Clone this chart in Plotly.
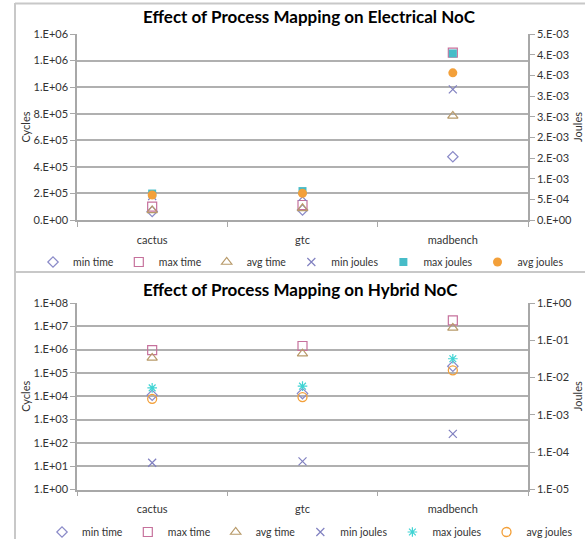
import plotly.graph_objects as go

W, H = 585, 539

categories = ["cactus", "gtc", "madbench"]

# Electrical NoC (top chart)
elec_min_time = [6.4e4, 7.5e4, 4.76e5]
elec_max_time = [1.0e5, 1.13e5, 1.26e6]
elec_avg_time = [7.2e4, 8.8e4, 7.83e5]
elec_min_joules = [5.8e-4, 5.6e-4, 3.16e-3]
elec_max_joules = [6.4e-4, 7.0e-4, 4.03e-3]
elec_avg_joules = [6.05e-4, 6.46e-4, 3.56e-3]

# Hybrid NoC (bottom chart)
hyb_min_time = [1.1e4, 1.3e4, 1.93e5]
hyb_max_time = [9.5e5, 1.43e6, 1.8e7]
hyb_avg_time = [4.4e5, 6.7e5, 8.5e6]
hyb_min_joules = [5.2e-5, 5.7e-5, 3.1e-4]
hyb_max_joules = [5.3e-3, 5.9e-3, 3.2e-2]
hyb_avg_joules = [2.7e-3, 3.0e-3, 1.57e-2]

# Tick values / labels
elec_cyc_ticks = [0, 2e5, 4e5, 6e5, 8e5, 1.0e6, 1.2e6, 1.4e6]
elec_cyc_labels = ["0.E+00", "2.E+05", "4.E+05", "6.E+05", "8.E+05", "1.E+06", "1.E+06", "1.E+06"]
elec_j_ticks = [0, 5e-4, 1e-3, 1.5e-3, 2e-3, 2.5e-3, 3e-3, 3.5e-3, 4e-3, 4.5e-3]
elec_j_labels = ["0.E+00", "5.E-04", "1.E-03", "2.E-03", "2.E-03", "3.E-03", "3.E-03", "4.E-03", "4.E-03", "5.E-03"]
hyb_cyc_ticks = [1e0, 1e1, 1e2, 1e3, 1e4, 1e5, 1e6, 1e7, 1e8]
hyb_cyc_labels = ["1.E+00", "1.E+01", "1.E+02", "1.E+03", "1.E+04", "1.E+05", "1.E+06", "1.E+07", "1.E+08"]
hyb_j_ticks = [1e-5, 1e-4, 1e-3, 1e-2, 1e-1, 1e0]
hyb_j_labels = ["1.E-05", "1.E-04", "1.E-03", "1.E-02", "1.E-01", "1.E+00"]

FONT = "Lato"
TXT = "#333333"
GRID = "#b0b0b0"
AXIS = "#a8a8a8"
BORDER = "#c8c8c8"

C_MINT = "#8a8ac8"
C_MAXT = "#c6719c"
C_AVGT = "#b89a6a"
C_MINJ = "#8080c0"
C_MAXJ_TOP = "#47bcc8"
C_MAXJ_BOT = "#40d4d4"
C_AVGJ = "#f3a03a"


def px_x(p):
    return p / W


def px_y(p):
    return 1 - p / H


fig = go.Figure()


def add_series(xa, ya_t, ya_j, legend, data, top):
    mt, xt, at, mj, xj, aj = data
    fig.add_trace(go.Scatter(x=categories, y=mt, name="min time", mode="markers", xaxis=xa, yaxis=ya_t, legend=legend,
                             marker=dict(symbol="diamond-open", size=8, color=C_MINT, line=dict(width=1.2))))
    fig.add_trace(go.Scatter(x=categories, y=xt, name="max time", mode="markers", xaxis=xa, yaxis=ya_t, legend=legend,
                             marker=dict(symbol="square-open", size=9, color=C_MAXT, line=dict(width=1.2))))
    fig.add_trace(go.Scatter(x=categories, y=at, name="avg time", mode="markers", xaxis=xa, yaxis=ya_t, legend=legend,
                             marker=dict(symbol="triangle-up-open", size=9, color=C_AVGT, line=dict(width=1.2))))
    fig.add_trace(go.Scatter(x=categories, y=mj, name="min joules", mode="markers", xaxis=xa, yaxis=ya_j, legend=legend,
                             marker=dict(symbol="x-thin-open", size=8, color=C_MINJ, line=dict(width=1.2, color=C_MINJ))))
    if top:
        fig.add_trace(go.Scatter(x=categories, y=xj, name="max joules", mode="markers", xaxis=xa, yaxis=ya_j, legend=legend,
                                 marker=dict(symbol="square", size=8, color=C_MAXJ_TOP, line=dict(width=0))))
        fig.add_trace(go.Scatter(x=categories, y=aj, name="avg joules", mode="markers", xaxis=xa, yaxis=ya_j, legend=legend,
                                 marker=dict(symbol="circle", size=9, color=C_AVGJ, line=dict(width=0))))
    else:
        fig.add_trace(go.Scatter(x=categories, y=xj, name="max joules", mode="markers", xaxis=xa, yaxis=ya_j, legend=legend,
                                 marker=dict(symbol="asterisk-open", size=8, color=C_MAXJ_BOT, line=dict(width=1.2, color=C_MAXJ_BOT))))
        fig.add_trace(go.Scatter(x=categories, y=aj, name="avg joules", mode="markers", xaxis=xa, yaxis=ya_j, legend=legend,
                                 marker=dict(symbol="circle-open", size=9, color=C_AVGJ, line=dict(width=1.3))))


add_series("x", "y", "y2", "legend",
           (elec_min_time, elec_max_time, elec_avg_time, elec_min_joules, elec_max_joules, elec_avg_joules), True)
add_series("x2", "y3", "y4", "legend2",
           (hyb_min_time, hyb_max_time, hyb_avg_time, hyb_min_joules, hyb_max_joules, hyb_avg_joules), False)

xdom = [px_x(77), px_x(528)]
tickfont = dict(family=FONT, size=11, color=TXT)
titlefont = dict(family=FONT, size=11, color=TXT)

xcommon = dict(domain=xdom, type="category", range=[-0.5, 2.5], tickson="boundaries", ticks="outside",
               ticklen=5, tickcolor=AXIS, showline=True, linecolor=AXIS, linewidth=1.5, showgrid=False,
               zeroline=False, tickfont=tickfont, ticklabelstandoff=9, automargin=False, fixedrange=True)

ycommon = dict(ticks="outside", ticklen=5, tickcolor=AXIS, showline=True, linecolor=AXIS, linewidth=1.5,
               zeroline=False, tickfont=tickfont, automargin=False, fixedrange=True)

legfont = dict(family=FONT, size=10.5, color=TXT)

fig.update_layout(
    width=W, height=H, margin=dict(l=0, r=0, t=0, b=0, autoexpand=False),
    paper_bgcolor="white", plot_bgcolor="white",
    font=dict(family=FONT, size=11, color=TXT),
    showlegend=True,
    xaxis=dict(anchor="y", **xcommon),
    xaxis2=dict(anchor="y3", **xcommon),
    yaxis=dict(domain=[px_y(220), px_y(34)], anchor="x", range=[0, 1.4e6], tickvals=elec_cyc_ticks,
               ticktext=elec_cyc_labels, showgrid=True, gridcolor=GRID, gridwidth=1.5,
               title=dict(text="Cycles", font=titlefont, standoff=1), **ycommon),
    yaxis2=dict(overlaying="y", side="right", anchor="x", range=[0, 4.5e-3], tickvals=elec_j_ticks,
                ticktext=elec_j_labels, showgrid=False,
                title=dict(text="Joules", font=titlefont, standoff=3), **ycommon),
    yaxis3=dict(domain=[px_y(489.5), px_y(303)], anchor="x2", type="log", range=[0, 8], tickvals=hyb_cyc_ticks,
                ticktext=hyb_cyc_labels, showgrid=True, gridcolor=GRID, gridwidth=1.5,
                title=dict(text="Cycles", font=titlefont, standoff=1), **ycommon),
    yaxis4=dict(overlaying="y3", side="right", anchor="x2", type="log", range=[-5, 0], tickvals=hyb_j_ticks,
                ticktext=hyb_j_labels, showgrid=False,
                title=dict(text="Joules", font=titlefont, standoff=3), **ycommon),
    legend=dict(orientation="h", x=px_x(301), xanchor="center", y=px_y(262), yanchor="middle",
                font=legfont, bgcolor="rgba(0,0,0,0)", itemwidth=30, tracegroupgap=0),
    legend2=dict(orientation="h", x=px_x(310), xanchor="center", y=px_y(532), yanchor="middle",
                 font=legfont, bgcolor="rgba(0,0,0,0)", itemwidth=30, tracegroupgap=0),
    annotations=[
        dict(text="<b>Effect of Process Mapping on Electrical NoC</b>", xref="paper", yref="paper",
             x=px_x(309), y=px_y(17), xanchor="center", yanchor="middle", showarrow=False,
             font=dict(family=FONT, size=17, color="#000000")),
        dict(text="<b>Effect of Process Mapping on Hybrid NoC</b>", xref="paper", yref="paper",
             x=px_x(301), y=px_y(289), xanchor="center", yanchor="middle", showarrow=False,
             font=dict(family=FONT, size=17, color="#000000")),
    ],
    shapes=[
        dict(type="line", xref="paper", yref="paper", x0=px_x(15), x1=px_x(15), y0=px_y(3), y1=0,
             line=dict(color=BORDER, width=2)),
        dict(type="line", xref="paper", yref="paper", x0=px_x(15), x1=1, y0=px_y(3.5), y1=px_y(3.5),
             line=dict(color=BORDER, width=2)),
        dict(type="line", xref="paper", yref="paper", x0=px_x(15), x1=1, y0=px_y(272), y1=px_y(272),
             line=dict(color=BORDER, width=2)),
    ],
)

fig.write_html("out.html")
